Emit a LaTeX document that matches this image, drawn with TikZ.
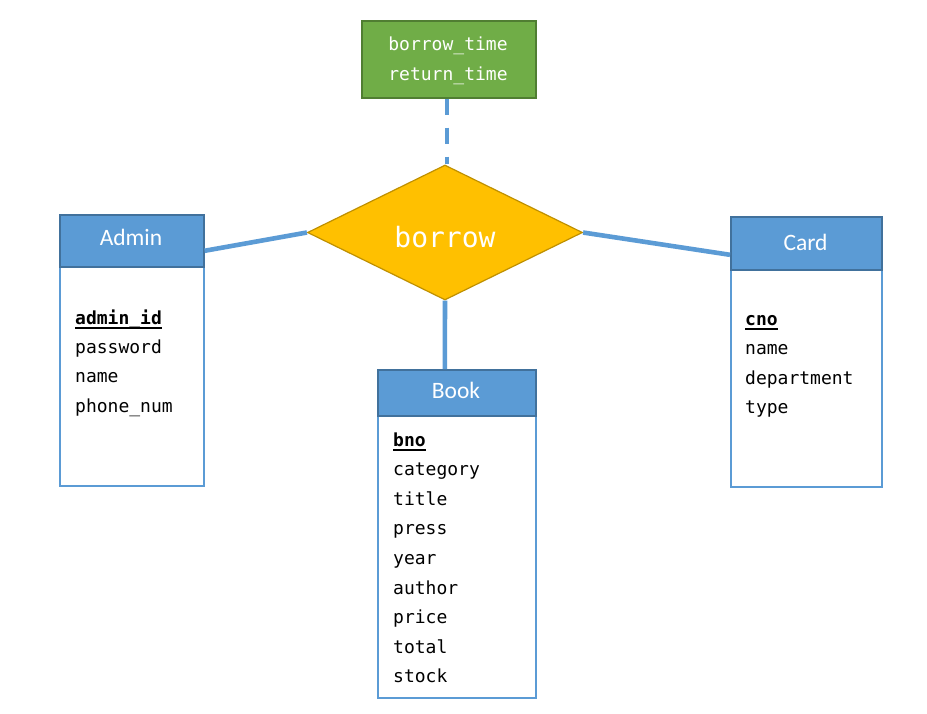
\documentclass[tikz,border=0pt]{standalone}
\usepackage{fontspec}
\setmainfont{Carlito}
\setmonofont{DejaVu Sans Mono}
\usetikzlibrary{shapes.geometric}

\definecolor{entblue}{HTML}{5B9BD5}
\definecolor{entedge}{HTML}{41719C}
\definecolor{relgold}{HTML}{FFC000}
\definecolor{reledge}{HTML}{BF9000}
\definecolor{attgreen}{HTML}{70AD47}
\definecolor{attedge}{HTML}{507E32}

% bold, underlined primary key
\newcommand\keyattr[1]{\setbox0\hbox{\bfseries #1}\rlap{\rule[-4.6pt]{\wd0}{1.7pt}}\box0}

\tikzset{
  headbox/.style={draw=entedge, line width=1.6pt, fill=entblue, anchor=north west, inner sep=0pt},
  bodybox/.style={draw=entblue, line width=1.6pt, fill=white, anchor=north west, inner sep=0pt},
  headtext/.style={text=white, anchor=base, inner sep=0pt, font=\fontsize{23.5}{28}\selectfont},
  attr/.style={anchor=base west, inner sep=0pt, font=\ttfamily\fontsize{18}{22}\selectfont},
  relbox/.style={diamond, draw=reledge, line width=1.2pt, fill=relgold, minimum width=275pt, minimum height=135pt, inner sep=0pt},
  reltext/.style={text=white, anchor=base, inner sep=0pt, font=\ttfamily\fontsize{28}{32}\selectfont},
  relattr/.style={draw=attedge, line width=1.6pt, fill=attgreen, anchor=north west, inner sep=0pt},
  relattrtext/.style={text=white, anchor=base, inner sep=0pt, font=\ttfamily\fontsize{18}{22}\selectfont},
  link/.style={draw=entblue, line width=4.6pt},
  dashlink/.style={draw=entblue, line width=4.6pt, dash pattern=on 16pt off 13pt},
}

\begin{document}
\begin{tikzpicture}[x=1pt, y=-1pt]
  \useasboundingbox[fill=white] (0,0) rectangle (927,713);

  % relationship attributes
  \node[relattr, minimum width=174pt, minimum height=77pt] (ratt) at (361,20) {};
  \node[relattrtext] (rattA) at (448,50) {borrow\_time};
  \node[relattrtext] (rattB) at (448,80) {return\_time};

  % relationship
  \node[relbox] (borrow) at (445,232.5) {};
  \node[reltext] (borrowlbl) at (445,247) {borrow};

  % Admin entity
  \node[bodybox, minimum width=144pt, minimum height=219pt] (adminBody) at (59,266) {};
  \node[headbox, minimum width=144pt, minimum height=52pt] (adminHead) at (59,214) {};
  \node[headtext] (adminLbl) at (131,245) {Admin};
  \node[attr] (admin1) at (75,324) {\keyattr{admin\_id}};
  \node[attr] (admin2) at (75,353) {password};
  \node[attr] (admin3) at (75,382.5) {name};
  \node[attr] (admin4) at (75,412) {phone\_num};

  % Card entity
  \node[bodybox, minimum width=151pt, minimum height=217pt] (cardBody) at (730,269) {};
  \node[headbox, minimum width=151pt, minimum height=53pt] (cardHead) at (730,216) {};
  \node[headtext] (cardLbl) at (805.5,250) {Card};
  \node[attr] (card1) at (745,325) {\keyattr{cno}};
  \node[attr] (card2) at (745,354.5) {name};
  \node[attr] (card3) at (745,384) {department};
  \node[attr] (card4) at (745,413.5) {type};

  % Book entity
  \node[bodybox, minimum width=158pt, minimum height=282pt] (bookBody) at (377,415) {};
  \node[headbox, minimum width=158pt, minimum height=46pt] (bookHead) at (377,369) {};
  \node[headtext] (bookLbl) at (456,398) {Book};
  \node[attr] (book1) at (393,446) {\keyattr{bno}};
  \foreach \t [count=\i from 2] in {category,title,press,year,author,price,total,stock}
    \node[attr] (book\i) at (393,{446+(\i-1)*29.6}) {\t};

  % connectors
  \draw[dashlink] ([xshift=2pt]ratt.south -| borrow.north) -- ([xshift=2pt]borrow.north);
  \draw[link] ([yshift=-10pt]adminHead.east) -- (borrow.west);
  \draw[link] (borrow.east) -- ([yshift=-11.5pt]cardHead.west);
  \draw[link] (borrow.south) -- ([xshift=-12pt]bookHead.north);
\end{tikzpicture}
\end{document}
